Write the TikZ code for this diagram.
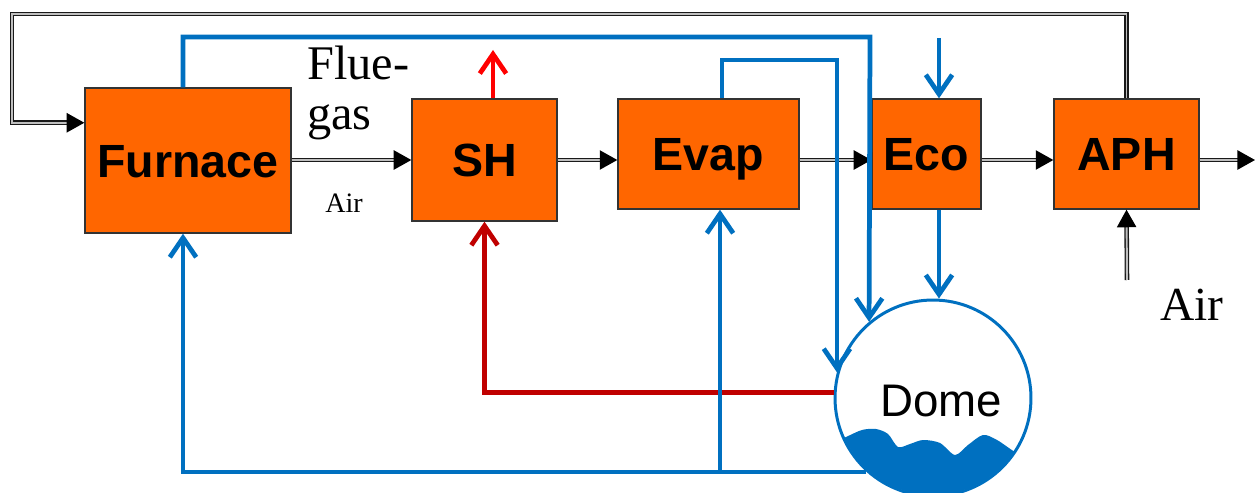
\documentclass[tikz,border=0pt]{standalone}
\usepackage{fontspec}
\setmainfont{Liberation Serif}
\newfontfamily\boxfont{Liberation Sans}
\usepackage{xcolor}
\usepackage{tikz}
\usetikzlibrary{arrows.meta}
\definecolor{unitorange}{RGB}{255,102,0}
\definecolor{waterblue}{RGB}{0,112,192}
\definecolor{steamred}{RGB}{192,0,0}
\definecolor{hotred}{RGB}{255,0,0}
\tikzset{
  unit/.style={draw=black!80, line width=0.8pt, fill=unitorange, inner sep=0pt,
    font=\boxfont\bfseries\fontsize{26.5pt}{30pt}\selectfont, text height=19pt, text depth=0pt},
  fluegas/.style={draw=black!90, double=gray!50, line width=0.75pt, double distance=1.1pt,
    -{Triangle[length=10pt,width=11pt,black]}},
  water/.style={waterblue, line width=2.7pt, -{Straight Barb[length=11pt,width=15pt]}},
  steam/.style={steamred, line width=2.7pt, -{Straight Barb[length=11pt,width=15pt]}},
  hot/.style={hotred, line width=2.7pt, -{Straight Barb[length=11pt,width=15pt]}},
}
\begin{document}
\begin{tikzpicture}[x=0.02cm, y=-0.02cm]
        \useasboundingbox (0,0) rectangle (1258,493);

        % Units along the flue gas path
        \node[unit, minimum width=4.12cm, minimum height=2.9cm] (furnace) at (188,160.5) {Furnace};
        \node[unit, minimum width=2.9cm, minimum height=2.44cm] (sh) at (484.5,160) {SH};
        \node[unit, minimum width=3.62cm, minimum height=2.2cm] (evap) at (708.5,154) {Evap};
        \node[unit, minimum width=2.18cm, minimum height=2.2cm] (eco) at (926.5,154) {Eco};
        \node[unit, minimum width=2.9cm, minimum height=2.2cm] (aph) at (1126.5,154) {APH};

        % Dome with water
        \node[circle, draw=waterblue, line width=1.7pt, fill=white, minimum size=3.92cm, inner sep=0pt] (dome) at (933,398) {};
        \begin{scope}
            \clip (dome.center) circle[radius=97];
            \fill[waterblue] plot[smooth] coordinates {(830,444) (846,437) (862,430) (876,429) (888,434) (898,447) (910,444) (923,440) (940,443) (955,455) (968,445) (983,435) (997,440) (1015,452) (1035,462)}
                -- (1040,520) -- (830,520) -- cycle;
        \end{scope}
        \node[font=\boxfont\fontsize{26pt}{30pt}\selectfont, text height=18.6pt, text depth=0pt, inner sep=0pt] (domelabel) at (941,400) {Dome};

        % Labels
        \node[anchor=base west, inner sep=0pt, font=\fontsize{27.5pt}{30pt}\selectfont] (flue) at (307,80) {Flue-};
        \node[anchor=base west, inner sep=0pt, font=\fontsize{27.5pt}{30pt}\selectfont] (gas) at (307,130) {gas};
        \node[anchor=base west, inner sep=0pt, font=\fontsize{16pt}{18pt}\selectfont] (airlow) at (325,213) {Air};
        \node[anchor=base west, inner sep=0pt, font=\fontsize{27pt}{30pt}\selectfont] (air) at (1160,320) {Air};

        % Flue gas and air (black)
        \coordinate (flow) at (0,160);
        \coordinate (exit) at (1255,160);
        \coordinate (loop) at (12,14);
        \coordinate (airin) at (1127,280);
        \draw[fluegas] (furnace.east |- flow) -- (sh.west |- flow);
        \draw[fluegas] (sh.east |- flow) -- (evap.west |- flow);
        \draw[fluegas] (evap.east |- flow) -- (eco.west |- flow);
        \draw[fluegas] (eco.east |- flow) -- (aph.west |- flow);
        \draw[fluegas] (aph.east |- flow) -- (exit);
        \draw[fluegas] (aph.north) |- (loop) |- (furnace.160);
        \draw[fluegas] (airin) -- (aph.south);

        % Steam (red)
        \coordinate (steamout) at (493,50);
        \draw[steam] (dome.177) -| (sh.south);
        \draw[hot] (steamout |- sh.north) -- (steamout);

        % Water (blue)
        \coordinate (ret) at (183,470);
        \coordinate (top) at (870,37);
        \coordinate (evup) at (722,60);
        \coordinate (feed) at (939,38);
        \coordinate (evret) at (720,470);
        \draw[water] (furnace.north -| ret) |- (top) -- (dome.130);
        \draw[water] (evap.north -| evup) -- (evup) -| (dome.165);
        \draw[water] (feed) -- (feed |- eco.north);
        \draw[water] (feed |- eco.south) -- (feed |- dome.north);
        \draw[water] (dome.228) -| (furnace.south -| ret);
        \draw[water] (evret) -- (evret |- evap.south);
    \end{tikzpicture}
\end{document}
